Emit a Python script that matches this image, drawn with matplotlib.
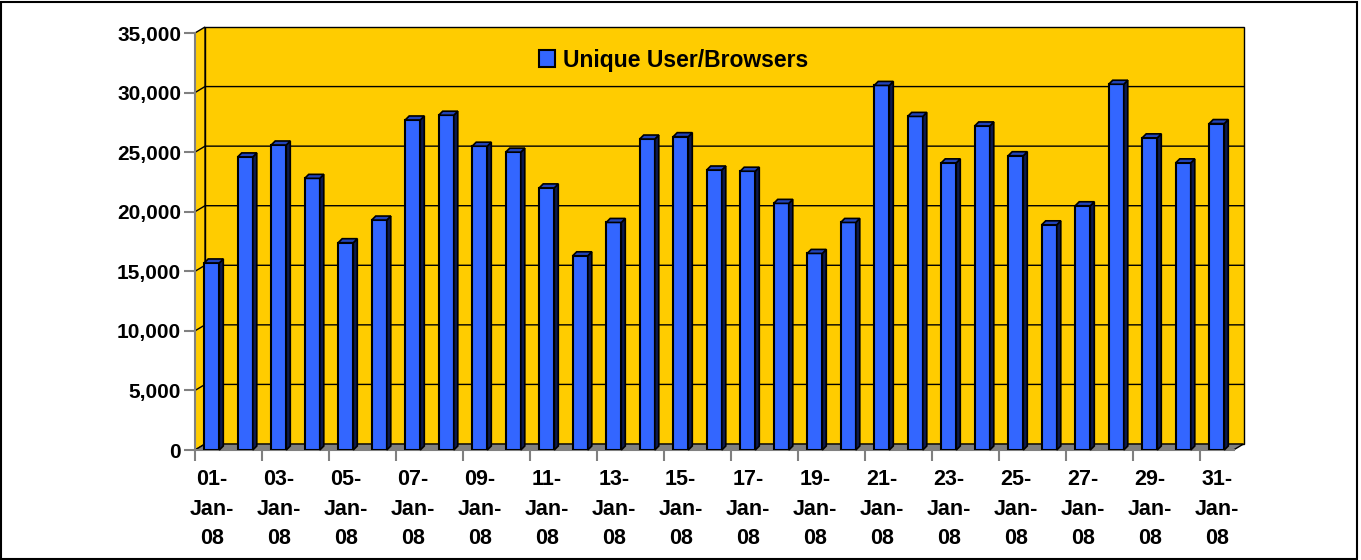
import numpy as np
import matplotlib.pyplot as plt
from matplotlib.patches import Polygon, Rectangle

plt.rcParams['font.family'] = ['Liberation Sans', 'DejaVu Sans']
plt.rcParams['font.weight'] = 'bold'

days = np.arange(1, 32)
users = [15700, 24600, 25600, 22800, 17400, 19300, 27700, 28100, 25500, 25000,
         22000, 16300, 19100, 26100, 26300, 23500, 23400, 20700, 16500, 19100,
         30600, 28000, 24100, 27200, 24700, 18900, 20500, 30700, 26200, 24100, 27400]
tick_days = days[::2]
tick_labels = [f'{d:02d}-\nJan-\n08' for d in tick_days]
series_name = 'Unique User/Browsers'
yticks = np.arange(0, 35001, 5000)

W, H = 1361, 560
fig = plt.figure(figsize=(W / 100, H / 100), dpi=100)
ax = fig.add_axes([195 / W, 110 / H, 1038.5 / W, 417 / H])
ax.set_xlim(0.5, 31.5)
ax.set_ylim(0, 35000)
ax.patch.set_visible(False)

# pixel -> data units
ux = 31 / 1038.5
uy = 35000 / 417
wdx, wdy = 10 * ux, 6 * uy   # wall depth
bdx, bdy = 4 * ux, 4 * uy    # bar depth

yellow = '#FFCC00'
# back wall, side wall, floor
ax.add_patch(Rectangle((0.5 + wdx, wdy), 31, 35000, fc=yellow, ec='black', lw=1, zorder=0, clip_on=False))
ax.add_patch(Polygon([(0.5, 0), (0.5 + wdx, wdy), (0.5 + wdx, 35000 + wdy), (0.5, 35000)],
                     fc=yellow, ec='black', lw=1, zorder=0, clip_on=False))
for v in yticks[1:-1]:
    ax.plot([0.5, 0.5 + wdx, 31.5 + wdx], [v, v + wdy, v + wdy], color='black', lw=1, zorder=1, clip_on=False)
ax.add_patch(Polygon([(0.5, 0), (31.5, 0), (31.5 + wdx, wdy), (0.5 + wdx, wdy)],
                     fc='#808080', ec='black', lw=1, zorder=1, clip_on=False))

# bars
w = 0.45
bars = ax.bar(days, users, width=w, color='#3366FF', edgecolor='black', lw=1.5, zorder=3)
for x, v in zip(days, users):
    r = x + w / 2
    ax.add_patch(Polygon([(r, 0), (r + bdx, bdy), (r + bdx, v + bdy), (r, v)],
                         fc='#0C1A4D', ec='black', lw=1.2, zorder=3, clip_on=False))
    ax.add_patch(Polygon([(x - w / 2, v), (r, v), (r + bdx, v + bdy), (x - w / 2 + bdx, v + bdy)],
                         fc='#2244BB', ec='black', lw=1.2, zorder=3, clip_on=False))

# axes
for s in ['top', 'right']:
    ax.spines[s].set_visible(False)
ax.spines['left'].set_color('#808080')
ax.spines['bottom'].set_color('#808080')
ax.spines['left'].set_linewidth(1.5)
ax.spines['bottom'].set_linewidth(1.5)
ax.set_yticks(yticks)
ax.set_yticklabels([f'{v:,}' for v in yticks], fontsize=15, fontweight='bold')
ax.set_xticks(tick_days - 0.5, minor=False)
ax.set_xticklabels([])
ax.set_xticks(tick_days, minor=True)
ax.set_xticklabels(tick_labels, minor=True, fontsize=15.5, fontweight='bold', linespacing=1.52)
ax.tick_params(axis='y', length=8, width=1.5, color='#808080', pad=2)
ax.tick_params(axis='x', which='major', length=8, width=1.5, color='#808080')
ax.tick_params(axis='x', which='minor', length=0, pad=14)

ax.legend([bars], [series_name], loc='center', bbox_to_anchor=(674 / W, 1 - 60 / H),
          bbox_transform=fig.transFigure, frameon=False, handlelength=0.7, handleheight=0.7,
          handletextpad=0.35, prop={'size': 16.5, 'weight': 'bold'})

fig.add_artist(Rectangle((1 / W, 1 / H), (W - 5) / W, (H - 3) / H, transform=fig.transFigure,
                         fill=False, ec='black', lw=1.5))

fig.savefig('out.png', dpi=100)
